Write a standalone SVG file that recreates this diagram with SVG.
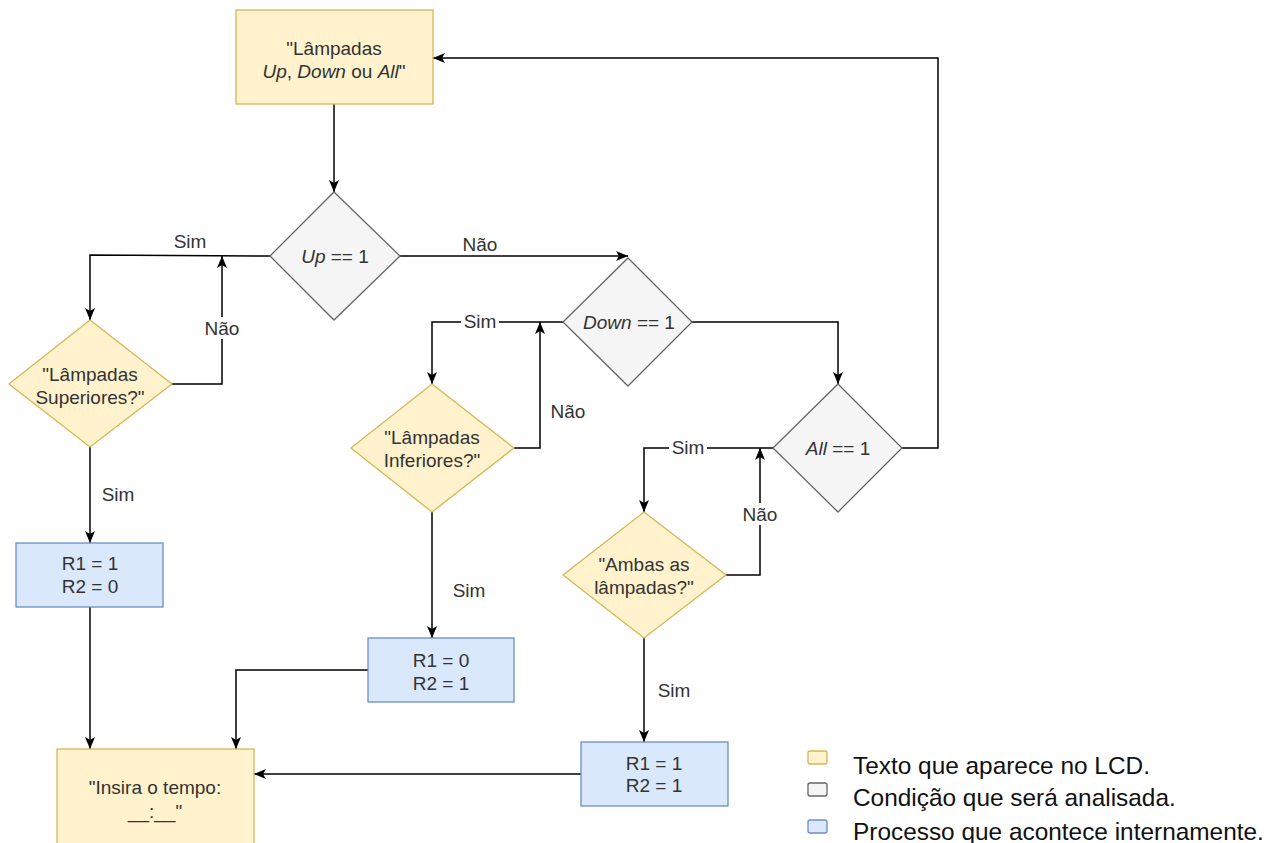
<svg xmlns="http://www.w3.org/2000/svg" width="1284" height="843" viewBox="0 0 1284 843">
<defs>
<marker id="arr" markerWidth="13" markerHeight="11" refX="12" refY="5" orient="auto" markerUnits="userSpaceOnUse">
<path d="M0,0 L12,5 L0,10 L3,5 z" fill="#000"/>
</marker>
<style>
.t{font-family:"Liberation Sans",Arial,sans-serif;font-size:19px;fill:#333;text-anchor:middle}
.lbl{font-family:"Liberation Sans",Arial,sans-serif;font-size:19px;fill:#333;text-anchor:middle}
.leg{font-family:"Liberation Sans",Arial,sans-serif;font-size:24.4px;fill:#111}
.y{fill:#fff2cc;stroke:#d6b656;stroke-width:1.3}
.g{fill:#f5f5f5;stroke:#666;stroke-width:1.3}
.b{fill:#dae8fc;stroke:#6c8ebf;stroke-width:1.3}
.c{fill:none;stroke:#000;stroke-width:1.5}
.a{marker-end:url(#arr)}
</style>
</defs>
<rect width="1284" height="843" fill="#fff"/>
<g id="connectors">
<path class="c a" d="M334,104 V192"/>
<path class="c a" d="M270,256 L90,255 V320"/>
<path class="c a" d="M172,384 H222 V256"/>
<path class="c a" d="M90,447 V543"/>
<path class="c a" d="M90,607 V749"/>
<path class="c a" d="M400,256 H628"/>
<path class="c a" d="M563,322 H432 V384"/>
<path class="c a" d="M514,448 H540 V322"/>
<path class="c a" d="M432,512 V638"/>
<path class="c a" d="M368,670 H236 V749"/>
<path class="c a" d="M692,322 H838 V384"/>
<path class="c a" d="M902,448 H938 V58 H433"/>
<path class="c a" d="M773,448 H644 V512"/>
<path class="c a" d="M726,575 H760 V448"/>
<path class="c a" d="M644,638 V742"/>
<path class="c a" d="M581,774 H254"/>
<text class="lbl" x="190" y="248">Sim</text>
<rect x="202" y="317" width="40" height="22" fill="#fff"/>
<text class="lbl" x="222" y="335">Não</text>
<text class="lbl" x="118" y="501">Sim</text>
<text class="lbl" x="480" y="251">Não</text>
<rect x="461" y="311" width="38" height="22" fill="#fff"/>
<text class="lbl" x="480" y="328">Sim</text>
<text class="lbl" x="568" y="418">Não</text>
<text class="lbl" x="469" y="597">Sim</text>
<rect x="669" y="437" width="38" height="22" fill="#fff"/>
<text class="lbl" x="688" y="454">Sim</text>
<rect x="740" y="503" width="40" height="22" fill="#fff"/>
<text class="lbl" x="760" y="521">Não</text>
<text class="lbl" x="674" y="697">Sim</text>
</g>
<g id="n-top">
<rect class="y" x="236" y="10" width="197" height="94"/>
<text class="t" x="334" y="55">"Lâmpadas</text>
<text class="t" x="334" y="78"><tspan font-style="italic">Up</tspan>, <tspan font-style="italic">Down</tspan> ou <tspan font-style="italic">All</tspan>"</text>
</g>
<g id="n-up">
<path class="g" d="M334,192 L400,256 L334,320 L270,256 z"/>
<text class="t" x="335" y="263"><tspan font-style="italic">Up</tspan> == 1</text>
</g>
<g id="n-sup">
<path class="y" d="M90,320 L172,384 L90,447 L9,384 z"/>
<text class="t" x="90" y="381">"Lâmpadas</text>
<text class="t" x="90" y="404">Superiores?"</text>
</g>
<g id="n-b1">
<rect class="b" x="16" y="543" width="147" height="64"/>
<text class="t" x="90" y="570">R1 = 1</text>
<text class="t" x="90" y="593">R2 = 0</text>
</g>
<g id="n-down">
<path class="g" d="M628,258 L692,322 L628,386 L563,322 z"/>
<text class="t" x="629" y="329"><tspan font-style="italic">Down</tspan> == 1</text>
</g>
<g id="n-inf">
<path class="y" d="M432,384 L514,448 L432,512 L351,448 z"/>
<text class="t" x="432" y="444">"Lâmpadas</text>
<text class="t" x="432" y="467">Inferiores?"</text>
</g>
<g id="n-b2">
<rect class="b" x="368" y="638" width="146" height="64"/>
<text class="t" x="441" y="667">R1 = 0</text>
<text class="t" x="441" y="690">R2 = 1</text>
</g>
<g id="n-all">
<path class="g" d="M838,384 L902,448 L838,512 L773,448 z"/>
<text class="t" x="838" y="455"><tspan font-style="italic">All</tspan> == 1</text>
</g>
<g id="n-amb">
<path class="y" d="M644,512 L726,575 L644,638 L563,575 z"/>
<text class="t" x="644" y="571">"Ambas as</text>
<text class="t" x="644" y="594">lâmpadas?"</text>
</g>
<g id="n-b3">
<rect class="b" x="581" y="742" width="147" height="64"/>
<text class="t" x="654" y="770">R1 = 1</text>
<text class="t" x="654" y="792">R2 = 1</text>
</g>
<g id="n-insira">
<rect class="y" x="57" y="749" width="197" height="100"/>
<text class="t" x="155" y="794">"Insira o tempo:</text>
<text class="t" x="155" y="818">__:__"</text>
</g>
<g id="legend">
<rect class="y" x="808" y="751" width="19" height="13" rx="2"/>
<rect class="g" x="808" y="783" width="19" height="13" rx="2"/>
<rect class="b" x="808" y="820" width="19" height="13" rx="2"/>
<text class="leg" x="853" y="774">Texto que aparece no LCD.</text>
<text class="leg" x="853" y="806">Condição que será analisada.</text>
<text class="leg" x="853" y="840">Processo que acontece internamente.</text>
</g>
</svg>
